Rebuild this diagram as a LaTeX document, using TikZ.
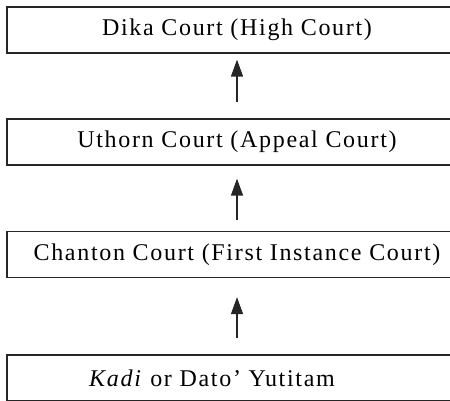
\documentclass[tikz,border=0pt]{standalone}
\usepackage{fontspec}
\setmainfont{Liberation Serif}
\usetikzlibrary{arrows.meta}
\tikzstyle{arrow} = [-{Triangle[length=17pt,width=12pt]},line width=1.3pt,draw=black!85,fill=black!85]
\tikzstyle{court} = [draw=black!85,line width=1.2pt,minimum width=460pt,minimum height=46pt,inner sep=0pt,font=\fontsize{24}{28}\selectfont\addfontfeature{LetterSpace=7}]

\begin{document}
\begin{tikzpicture}[x=1pt,y=-1pt]
          \useasboundingbox (0,0) rectangle (450,400);
          \node[court] at (237,30) (D) {Dika Court (High Court)};
          \node[court] at (237,142) (U) {Uthorn Court (Appeal Court)};
          \node[court] at (237,254.5) (C) {Chanton Court (First Instance Court)};
          \node[court] at (237,378) (K) {\textit{Kadi} or Dato’ Yutitam\hspace*{50pt}};

          \draw[arrow,shorten <=16pt,shorten >=6pt] (U) -- (D);
          \draw[arrow,shorten <=11pt,shorten >=13pt] (C) -- (U);
          \draw[arrow,shorten <=16pt,shorten >=19pt] (K) -- (C);
        \end{tikzpicture}
\end{document}
